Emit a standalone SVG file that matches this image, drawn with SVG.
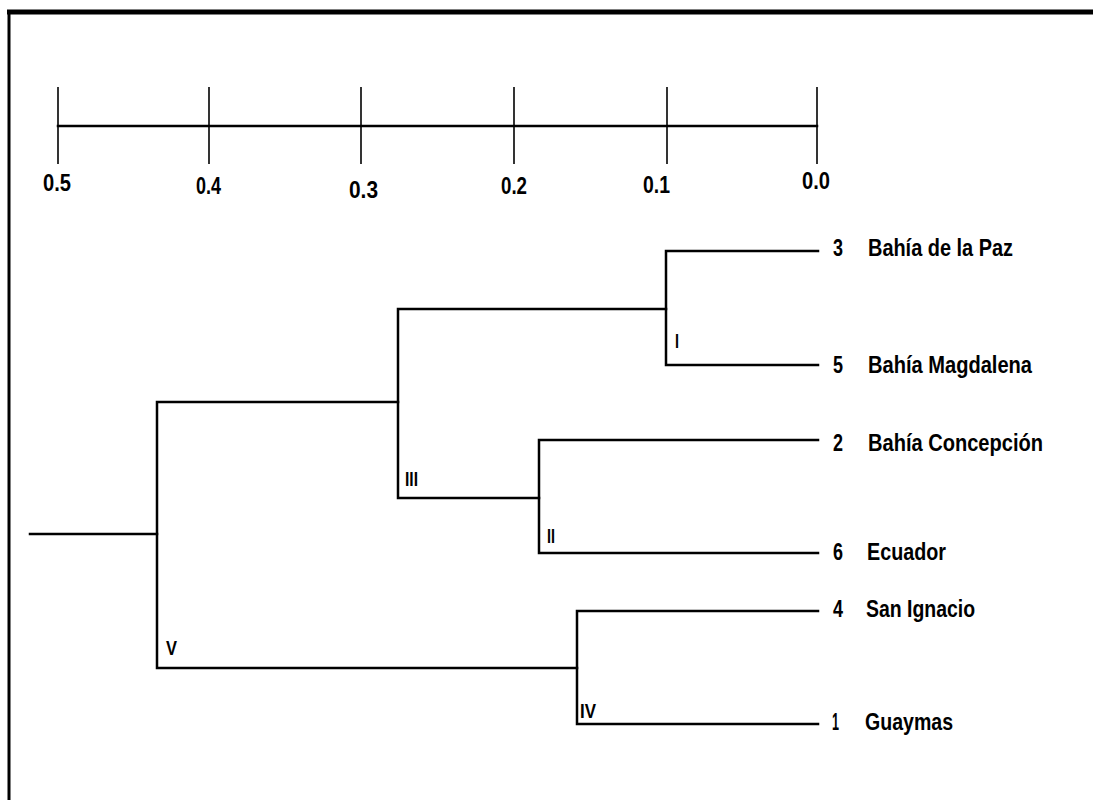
<svg xmlns="http://www.w3.org/2000/svg" width="1095" height="800" viewBox="0 0 1095 800">
<style>
.ln{stroke:#000;stroke-width:2.5;fill:none;stroke-linecap:square}
.tk{stroke:#000;stroke-width:1.6;fill:none}
.t{font-family:"Liberation Sans Narrow","Liberation Sans",Arial,sans-serif;font-weight:bold;font-size:24px;fill:#000}
.c{font-family:"Liberation Sans Narrow","Liberation Sans",Arial,sans-serif;font-weight:bold;font-size:20px;fill:#000}
</style>
<rect width="1095" height="800" fill="#fff"/>
<g id="frame">
<line x1="7" y1="12" x2="1093" y2="12" stroke="#000" stroke-width="5"/>
<line x1="9" y1="10" x2="9" y2="800" stroke="#000" stroke-width="3"/>
</g>
<g id="scale">
<line class="ln" x1="58" y1="126" x2="817" y2="126"/>
<line class="tk" x1="58" y1="87" x2="58" y2="164"/>
<line class="tk" x1="209" y1="87" x2="209" y2="164"/>
<line class="tk" x1="361" y1="87" x2="361" y2="164"/>
<line class="tk" x1="514" y1="87" x2="514" y2="164"/>
<line class="tk" x1="667" y1="87" x2="667" y2="164"/>
<line class="tk" x1="817" y1="87" x2="817" y2="164"/>
<text class="t" x="43" y="191" textLength="28" lengthAdjust="spacingAndGlyphs">0.5</text>
<text class="t" x="196" y="194" textLength="25" lengthAdjust="spacingAndGlyphs">0.4</text>
<text class="t" x="349" y="198" textLength="29" lengthAdjust="spacingAndGlyphs">0.3</text>
<text class="t" x="501" y="194" textLength="26" lengthAdjust="spacingAndGlyphs">0.2</text>
<text class="t" x="643" y="193" textLength="27" lengthAdjust="spacingAndGlyphs">0.1</text>
<text class="t" x="802" y="189" textLength="28" lengthAdjust="spacingAndGlyphs">0.0</text>
</g>
<g id="connectors">
<polyline class="ln" points="818,251 666,251 666,365 818,365"/>
<polyline class="ln" points="818,440 539,440 539,553 818,553"/>
<polyline class="ln" points="666,309 398,309 398,498 539,498"/>
<polyline class="ln" points="818,611 577,611 577,724 818,724"/>
<polyline class="ln" points="398,402 157,402 157,668 577,668"/>
<line class="ln" x1="30" y1="534" x2="157" y2="534"/>
</g>
<g id="leaf3">
<text class="t" x="833" y="256" textLength="10" lengthAdjust="spacingAndGlyphs">3</text>
<text class="t" x="868" y="256" textLength="145" lengthAdjust="spacingAndGlyphs">Bahía de la Paz</text>
</g>
<g id="leaf5">
<text class="t" x="833" y="373" textLength="10" lengthAdjust="spacingAndGlyphs">5</text>
<text class="t" x="868" y="373" textLength="164" lengthAdjust="spacingAndGlyphs">Bahía Magdalena</text>
</g>
<g id="leaf2">
<text class="t" x="833" y="451" textLength="10" lengthAdjust="spacingAndGlyphs">2</text>
<text class="t" x="868" y="451" textLength="175" lengthAdjust="spacingAndGlyphs">Bahía Concepción</text>
</g>
<g id="leaf6">
<text class="t" x="833" y="560" textLength="10" lengthAdjust="spacingAndGlyphs">6</text>
<text class="t" x="867" y="560" textLength="79" lengthAdjust="spacingAndGlyphs">Ecuador</text>
</g>
<g id="leaf4">
<text class="t" x="833" y="617" textLength="10" lengthAdjust="spacingAndGlyphs">4</text>
<text class="t" x="866" y="617" textLength="109" lengthAdjust="spacingAndGlyphs">San Ignacio</text>
</g>
<g id="leaf1">
<text class="t" x="832" y="730" textLength="7" lengthAdjust="spacingAndGlyphs">1</text>
<text class="t" x="865" y="730" textLength="88" lengthAdjust="spacingAndGlyphs">Guaymas</text>
</g>
<g id="clusterI"><text class="c" x="675" y="348" textLength="4" lengthAdjust="spacingAndGlyphs">I</text></g>
<g id="clusterII"><text class="c" x="547" y="543" textLength="8" lengthAdjust="spacingAndGlyphs">II</text></g>
<g id="clusterIII"><text class="c" x="405" y="486" textLength="13" lengthAdjust="spacingAndGlyphs">III</text></g>
<g id="clusterIV"><text class="c" x="580" y="718" textLength="16" lengthAdjust="spacingAndGlyphs">IV</text></g>
<g id="clusterV"><text class="c" x="166" y="655" textLength="11" lengthAdjust="spacingAndGlyphs">V</text></g>
</svg>
